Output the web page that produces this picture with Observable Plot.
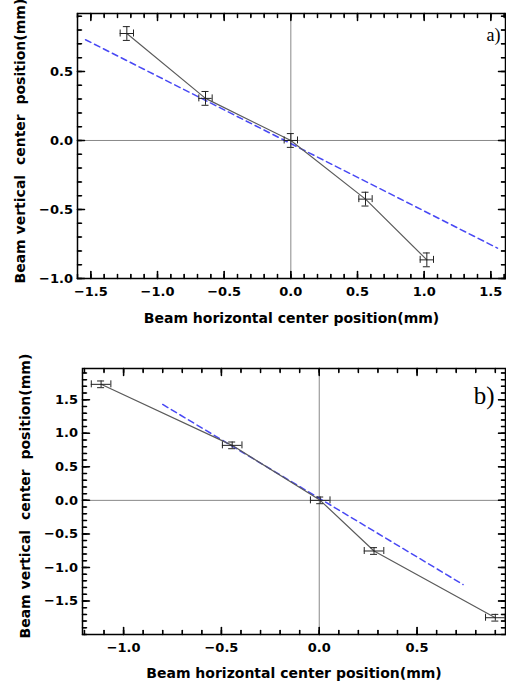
<!DOCTYPE html>
<html><head><meta charset="utf-8">
<script src="https://cdn.jsdelivr.net/npm/d3@7"></script>
<script src="https://cdn.jsdelivr.net/npm/@observablehq/plot@0.6"></script>
<style>
body{margin:0;background:#fff;width:506px;height:683px;overflow:hidden;position:relative}
#a{position:absolute;left:0;top:0}
#b{position:absolute;left:0;top:328px}
</style></head><body><div id="a"></div><div id="b"></div>
<script>
// ---- Panel a) data ----
const aX = [-1.23, -0.64, 0.0, 0.56, 1.02];
const aY = [0.775, 0.305, 0.0, -0.425, -0.865];
const aErrX = [0.05, 0.05, 0.05, 0.05, 0.05];
const aErrY = [0.05, 0.05, 0.05, 0.05, 0.05];
const aFitX = [-1.54, 1.55];
const aFitY = [0.73, -0.78];
const aXTicks = [-1.5, -1.0, -0.5, 0.0, 0.5, 1.0, 1.5];
const aYTicks = [-1.0, -0.5, 0.0, 0.5];
const aXMinor = d3.range(-16, 17).map(i => i / 10);
const aYMinor = d3.range(-10, 10).map(i => i / 10);

// ---- Panel b) data ----
const bX = [-1.115, -0.445, 0.005, 0.28, 0.90];
const bY = [1.73, 0.82, 0.0, -0.755, -1.75];
const bErrX = [0.05, 0.05, 0.05, 0.05, 0.05];
const bErrY = [0.05, 0.05, 0.05, 0.05, 0.05];
const bFitX = [-0.80, 0.735];
const bFitY = [1.43, -1.255];
const bXTicks = [-1.0, -0.5, 0.0, 0.5];
const bYTicks = [-1.5, -1.0, -0.5, 0.0, 0.5, 1.0, 1.5];
const bXMinor = d3.range(-12, 10).map(i => i / 10);
const bYMinor = d3.range(-20, 20).map(i => i / 10);

const xLabel = "Beam horizontal center position(mm)";
const yLabel = "Beam vertical\u00a0 center\u00a0 position(mm)";

const spike = {draw(c, l) { c.moveTo(0, 0); c.lineTo(0, -l); }};

function frameTicks(p, xs, ys, len) {
  const [x0, x1] = p.xd, [y0, y1] = p.yd;
  const st = {stroke: "#000", length: len, anchor: "start", shape: spike};
  return [
    Plot.vector(xs, {x: d => d, y: y0, rotate: 0, ...st}),
    Plot.vector(xs, {x: d => d, y: y1, rotate: 180, ...st}),
    Plot.vector(ys, {y: d => d, x: x0, rotate: 90, ...st}),
    Plot.vector(ys, {y: d => d, x: x1, rotate: -90, ...st}),
    Plot.ruleX(xs, {x: d => d, y1: y0, y2: y0, insetTop: -len, insetBottom: 0, stroke: "#000"}),
    Plot.ruleX(xs, {x: d => d, y1: y1, y2: y1, insetTop: 0, insetBottom: -len, stroke: "#000"}),
    Plot.ruleY(ys, {y: d => d, x1: x0, x2: x0, insetLeft: 0, insetRight: -len, stroke: "#000"}),
    Plot.ruleY(ys, {y: d => d, x1: x1, x2: x1, insetLeft: -len, insetRight: 0, stroke: "#000"})
  ];
}

function panel(p) {
  const pts = p.x.map((x, i) => ({x, y: p.y[i], ex: p.ex[i], ey: p.ey[i]}));
  const fit = p.fx.map((x, i) => ({x, y: p.fy[i]}));
  const fmt = d3.format(".1f");
  const ebar = {stroke: "#222", strokeWidth: 1};
  return Plot.plot({
    width: 506, height: p.height,
    marginTop: p.mt, marginBottom: p.mb, marginLeft: p.ml, marginRight: 1,
    x: {domain: p.xd}, y: {domain: p.yd},
    style: {fontFamily: "'DejaVu Sans', sans-serif", fontWeight: "bold", fontSize: "13px", color: "#000", background: "white"},
    marks: [
      Plot.ruleX([0], {stroke: "#888", strokeWidth: 1}),
      Plot.ruleY([0], {stroke: "#888", strokeWidth: 1}),
      Plot.line(fit, {x: "x", y: "y", stroke: "#4848f4", strokeWidth: 1.5, strokeDasharray: "6,4"}),
      Plot.line(pts, {x: "x", y: "y", stroke: "#5a5a5a", strokeWidth: 1.2}),
      Plot.ruleY(pts, {y: "y", x1: d => d.x - d.ex, x2: d => d.x + d.ex, ...ebar}),
      Plot.ruleX(pts, {x: "x", y1: d => d.y - d.ey, y2: d => d.y + d.ey, ...ebar}),
      Plot.ruleX(pts, {x: d => d.x - d.ex, y1: "y", y2: "y", insetTop: -3.5, insetBottom: -3.5, ...ebar}),
      Plot.ruleX(pts, {x: d => d.x + d.ex, y1: "y", y2: "y", insetTop: -3.5, insetBottom: -3.5, ...ebar}),
      Plot.ruleY(pts, {y: d => d.y - d.ey, x1: "x", x2: "x", insetLeft: -3.5, insetRight: -3.5, ...ebar}),
      Plot.ruleY(pts, {y: d => d.y + d.ey, x1: "x", x2: "x", insetLeft: -3.5, insetRight: -3.5, ...ebar}),
      // tick labels
      Plot.axisX(p.xt, {anchor: "bottom", tickSize: 0, tickPadding: 8, tickFormat: fmt, label: null}),
      Plot.axisY(p.yt, {anchor: "left", tickSize: 0, tickPadding: 4.5, tickFormat: fmt, label: null}),
      // inward frame ticks (major + minor)
      ...frameTicks(p, p.xt, p.yt, 7),
      ...frameTicks(p, p.xm, p.ym, 4),
      // axis titles
      Plot.text([xLabel], {text: d => d, frameAnchor: "bottom", dy: p.xlDy, lineAnchor: "bottom", fontSize: 14, fontWeight: "bold"}),
      Plot.text([yLabel], {text: d => d, frameAnchor: "bottom-left", rotate: -90, textAnchor: "start", dx: -52.5, dy: p.ylDy, lineAnchor: "bottom", fontSize: 14, fontWeight: "bold"}),
      Plot.text([p.tag], {text: d => d, frameAnchor: "top-right", textAnchor: "end", lineAnchor: "bottom", dx: p.tagDx, dy: p.tagDy, fontFamily: "'Liberation Serif', 'Times New Roman', serif", fontWeight: "normal", fontSize: p.tagSize}),
      Plot.frame({stroke: "#000", strokeWidth: 1.5})
    ]
  });
}

document.getElementById("a").append(panel({
  x: aX, y: aY, ex: aErrX, ey: aErrY, fx: aFitX, fy: aFitY,
  xt: aXTicks, yt: aYTicks, xm: aXMinor, ym: aYMinor,
  xd: [-1.6, 1.61], yd: [-1.0, 0.92],
  height: 328, mt: 13, mb: 50, ml: 77,
  xlDy: 44, ylDy: 5, tag: "a)", tagDx: -5, tagDy: 27, tagSize: 18
}));
document.getElementById("b").append(panel({
  x: bX, y: bY, ex: bErrX, ey: bErrY, fx: bFitX, fy: bFitY,
  xt: bXTicks, yt: bYTicks, xm: bXMinor, ym: bYMinor,
  xd: [-1.21, 0.952], yd: [-2.0, 1.966],
  height: 355, mt: 40, mb: 49, ml: 82,
  xlDy: 43, ylDy: 4, tag: "b)", tagDx: -11, tagDy: 35, tagSize: 25
}));
</script></body></html>
